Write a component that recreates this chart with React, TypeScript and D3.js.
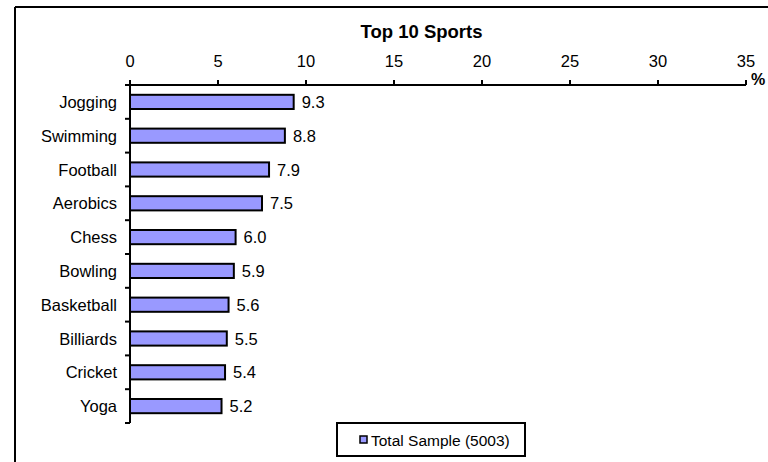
import React from "react";
import * as d3 from "d3";

const categories = ["Jogging", "Swimming", "Football", "Aerobics", "Chess", "Bowling", "Basketball", "Billiards", "Cricket", "Yoga"];
const values = [9.3, 8.8, 7.9, 7.5, 6.0, 5.9, 5.6, 5.5, 5.4, 5.2];
const xTicks = [0, 5, 10, 15, 20, 25, 30, 35];
const title = "Top 10 Sports";
const seriesName = "Total Sample (5003)";

export default function App() {
  const W = 768, H = 462;
  const x = d3.scaleLinear().domain([0, 35]).range([130, 746]);
  const y = d3.scaleBand<string>().domain(categories).range([85, 423]).paddingInner(0.58).paddingOuter(0.29);
  const band = (423 - 85) / categories.length;
  const font = "Liberation Sans, Arial, sans-serif";
  return (
    <svg width={W} height={H} style={{ position: "absolute", left: 0, top: 0, background: "#fff" }} fontFamily={font}>
      <rect x={0} y={0} width={W} height={H} fill="#fff" />
      <line x1={15} x2={W} y1={7} y2={7} stroke="#000" strokeWidth={2} />
      <line x1={15} x2={15} y1={7} y2={H} stroke="#000" strokeWidth={2} />
      <text x={421.5} y={38} textAnchor="middle" fontSize={18.5} fontWeight="bold">{title}</text>
      {/* x axis */}
      <line x1={x(0)} x2={x(35)} y1={85} y2={85} stroke="#000" strokeWidth={2} />
      {xTicks.map((t) => (
        <g key={t}>
          <line x1={x(t)} x2={x(t)} y1={80} y2={85} stroke="#000" strokeWidth={2} />
          <text x={x(t)} y={67} textAnchor="middle" fontSize={16.5}>{t}</text>
        </g>
      ))}
      <text x={751} y={85} fontSize={16} fontWeight="bold">%</text>
      {/* y axis */}
      <line x1={x(0)} x2={x(0)} y1={85} y2={423} stroke="#000" strokeWidth={2} />
      {d3.range(categories.length + 1).map((i) => (
        <line key={i} x1={125} x2={x(0)} y1={85 + i * band} y2={85 + i * band} stroke="#000" strokeWidth={2} />
      ))}
      {categories.map((c, i) => {
        const yc = (y(c) as number) + y.bandwidth() / 2;
        return (
          <g key={c}>
            <text x={117} y={yc + 6} textAnchor="end" fontSize={16.5}>{c}</text>
            <rect x={x(0)} y={y(c)} width={x(values[i]) - x(0)} height={y.bandwidth()} fill="#9999FF" stroke="#000" strokeWidth={2} />
            <text x={x(values[i]) + 8} y={yc + 6} fontSize={16.5}>{values[i].toFixed(1)}</text>
          </g>
        );
      })}
      {/* legend */}
      <rect x={337} y={423} width={188} height={33} fill="#fff" stroke="#000" strokeWidth={2} />
      <rect x={360} y={436} width={7} height={7} fill="#9999FF" stroke="#000" strokeWidth={1.5} />
      <text x={371} y={445.5} fontSize={15.5}>{seriesName}</text>
    </svg>
  );
}
